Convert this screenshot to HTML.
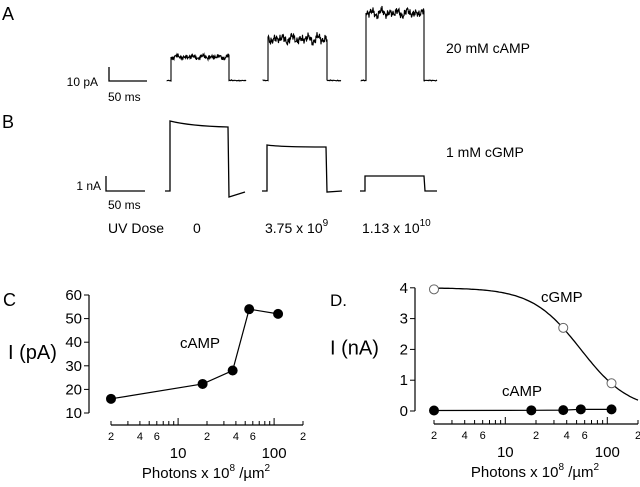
<!DOCTYPE html>
<html><head><meta charset="utf-8"><style>
body{margin:0;background:#fff;}
svg{display:block;font-family:"Liberation Sans",sans-serif;}
</style></head><body>
<svg id="fig" width="640" height="487" viewBox="0 0 640 487">
<g id="tracesG" fill="none" stroke="#000" stroke-width="1.3"></g>
<g id="txt" fill="#000" font-size="14">
<text x="2" y="20" font-size="18">A</text>
<text x="2" y="128" font-size="18">B</text>
<text x="98" y="86" text-anchor="end" font-size="12">10 pA</text>
<text x="108" y="101" font-size="12">50 ms</text>
<text x="101" y="190" text-anchor="end" font-size="12">1 nA</text>
<text x="108" y="209" font-size="12">50 ms</text>
<text x="446" y="53">20 mM cAMP</text>
<text x="446" y="157">1 mM cGMP</text>
<text x="108" y="233">UV Dose</text>
<text x="193" y="233">0</text>
<text x="265" y="233">3.75 x 10<tspan font-size="10" dy="-7">9</tspan></text>
<text x="362" y="233">1.13 x 10<tspan font-size="10" dy="-7">10</tspan></text>
<text x="3" y="306" font-size="18">C</text>
<text x="330" y="306" font-size="17">D.</text>
</g>
<g id="chartC"></g>
<g id="chartD"></g>
</svg>
<script>
const NS="http://www.w3.org/2000/svg";
// Panel C data
const xC=[2,18,37,55,110];
const yC=[16,22.3,28,54,52];
const yTicksC=[10,20,30,40,50,60];
// Panel D data
const xD_cgmp=[2,37,110];
const yD_cgmp=[3.95,2.7,0.9];
const xD_camp=[2,18,37,55,110];
const yD_camp=[0.016,0.022,0.028,0.054,0.052];
const yTicksD=[0,1,2,3,4];
const minorTickLabels=[2,4,6];
const majorTickLabels=[10,100];
const fitK=[55], fitN=[1.81], fitMax=[4];

function mk(tag,attrs,parent){const e=document.createElementNS(NS,tag);for(const k in attrs)e.setAttribute(k,attrs[k]);parent.appendChild(e);return e;}

// Traces
const tracesG=document.getElementById('tracesG');
function noise(i,s){return Math.sin(i*1.7+s)*0.6+Math.sin(i*4.3+s*2)*0.8+Math.sin(i*9.1+s*3)*0.7+Math.sin(i*0.37+s)*0.5;}
function traceA(x0,x1,x2,x3,base,lvl,amp,s){
  let d=`M${x0},${base}`;
  for(let x=x0;x<=x1;x+=0.5)d+=` L${x},${base+noise(x,s)*0.25}`;
  d+=` L${x1},${lvl}`;
  for(let x=x1;x<=x2;x+=0.5)d+=` L${x},${lvl+noise(x*1.3,s)*amp}`;
  d+=` L${x2},${base}`;
  for(let x=x2;x<=x3;x+=0.5)d+=` L${x},${base+noise(x,s)*0.25}`;
  const p=mk('path',{d:d,'stroke-width':'1.1'},tracesG);
  
  
}
traceA(167,171,229,246,80.5,57,1.5,1);
traceA(263,268,327,341,80.5,39,3.2,2);
traceA(361,366,424,437,80.5,13,3.0,3);
const tb=[
 `M165,191 L170,191 L170,121 Q190,126 228,127 L229,197 L245,192`,
 `M262,191 L267,191 L267,145 Q280,147 326,147 L327,192 L342,191`,
 `M360,191 L365,191 L365,176 L424,176 L425,191 L437,191`];
tb.forEach(d=>{const p=mk('path',{d:d},tracesG);

});
let sb=mk('path',{d:'M109,67 L109,81 L147,81'},tracesG);


sb=mk('path',{d:'M106,176 L106,191 L145,191'},tracesG);



function logAxis(g,x2px,yAxis,cx){
  const xa=mk('line',{x1:x2px(2),x2:x2px(200),y1:yAxis,y2:yAxis,stroke:'#000','stroke-width':1.2},g);
  
  
  for(let dec=1;dec<=100;dec*=10){for(let m=1;m<=9;m++){const v=m*dec;if(v<2||v>200)continue;
    const major=(m===1), h=major?7:4;
    const t=mk('line',{x1:x2px(v),x2:x2px(v),y1:yAxis,y2:yAxis-h,stroke:'#000','stroke-width':1},g);
    
    
  }}
  const t200=mk('line',{x1:x2px(200),x2:x2px(200),y1:yAxis,y2:yAxis-4,stroke:'#000','stroke-width':1},g);
  
  
  [1,10,100].forEach(dec=>minorTickLabels.forEach(m=>{const v=m*dec;if(v<2||v>200)return;
    const t=mk('text',{x:x2px(v),y:yAxis+15,'text-anchor':'middle','font-size':11},g);t.textContent=m;
    
    }));
  majorTickLabels.forEach(v=>{const t=mk('text',{x:x2px(v),y:yAxis+33,'text-anchor':'middle','font-size':15},g);t.textContent=v;
    
    });
  const tt=mk('text',{x:cx,y:yAxis+53,'text-anchor':'middle','font-size':15},g);
  tt.innerHTML='Photons x 10<tspan font-size="10" dy="-7">8</tspan><tspan dy="7"> /µm</tspan><tspan font-size="10" dy="-7">2</tspan>';
  
  
}
function yAxisDraw(g,xA,ticks,y2px,label,lx){
  const ya=mk('line',{x1:xA,x2:xA,y1:y2px(ticks[ticks.length-1]),y2:y2px(ticks[0]),stroke:'#000','stroke-width':1.2},g);
  
  
  ticks.forEach(v=>{const l=mk('line',{x1:xA-5,x2:xA,y1:y2px(v),y2:y2px(v),stroke:'#000'},g);
    
    
    const t=mk('text',{x:xA-7,y:y2px(v)+5,'text-anchor':'end','font-size':15},g);t.textContent=v;
    
    });
  const t=mk('text',{x:lx,y:y2px((ticks[0]+ticks[ticks.length-1])/2)+5,'font-size':20},g);t.textContent=label;
  
  
}
function series(g,xs,ys,x2px,y2px,filled,name,lines){
  if(lines){const p=mk('polyline',{points:xs.map((x,i)=>x2px(x)+','+y2px(ys[i])).join(' '),fill:'none',stroke:'#000','stroke-width':1.2},g);
    
    }
  xs.forEach((x,i)=>{const c=mk('circle',{cx:x2px(x),cy:y2px(ys[i]),r:4.5,fill:filled?'#000':'#fff',stroke:filled?'#000':'#666','stroke-width':1},g);
    
    });
}
// Chart C
const gC=document.getElementById('chartC');
const xC2px=v=>111+96*Math.log10(v/2);
const yC2px=v=>413-(v-10)*118/50;
yAxisDraw(gC,89,yTicksC,yC2px,'I (pA)',8);
logAxis(gC,xC2px,425,206);
series(gC,xC,yC,xC2px,yC2px,true,'camp',true);
let lb=mk('text',{x:180,y:348,'font-size':15},gC);lb.textContent='cAMP';


// Chart D
const gD=document.getElementById('chartD');
const xD2px=v=>434+102*Math.log10(v/2);
const yD2px=v=>411-v*30.8;
yAxisDraw(gD,415,yTicksD,yD2px,'I (nA)',330);
logAxis(gD,xD2px,424,535);
let d='';
for(let lx=Math.log10(2);lx<=Math.log10(200)+1e-9;lx+=0.02){const x=Math.pow(10,lx);
  const y=fitMax[0]/(1+Math.pow(x/fitK[0],fitN[0]));d+=(d?' L':'M')+xD2px(x).toFixed(1)+','+yD2px(y).toFixed(1);}
const fit=mk('path',{d:d,fill:'none',stroke:'#000','stroke-width':1.3},gD);


series(gD,xD_cgmp,yD_cgmp,xD2px,yD2px,false,'cgmp',false);
series(gD,xD_camp,yD_camp,xD2px,yD2px,true,'camp',true);
lb=mk('text',{x:541,y:302,'font-size':15},gD);lb.textContent='cGMP';


lb=mk('text',{x:502,y:396,'font-size':15},gD);lb.textContent='cAMP';


</script>
</body></html>
